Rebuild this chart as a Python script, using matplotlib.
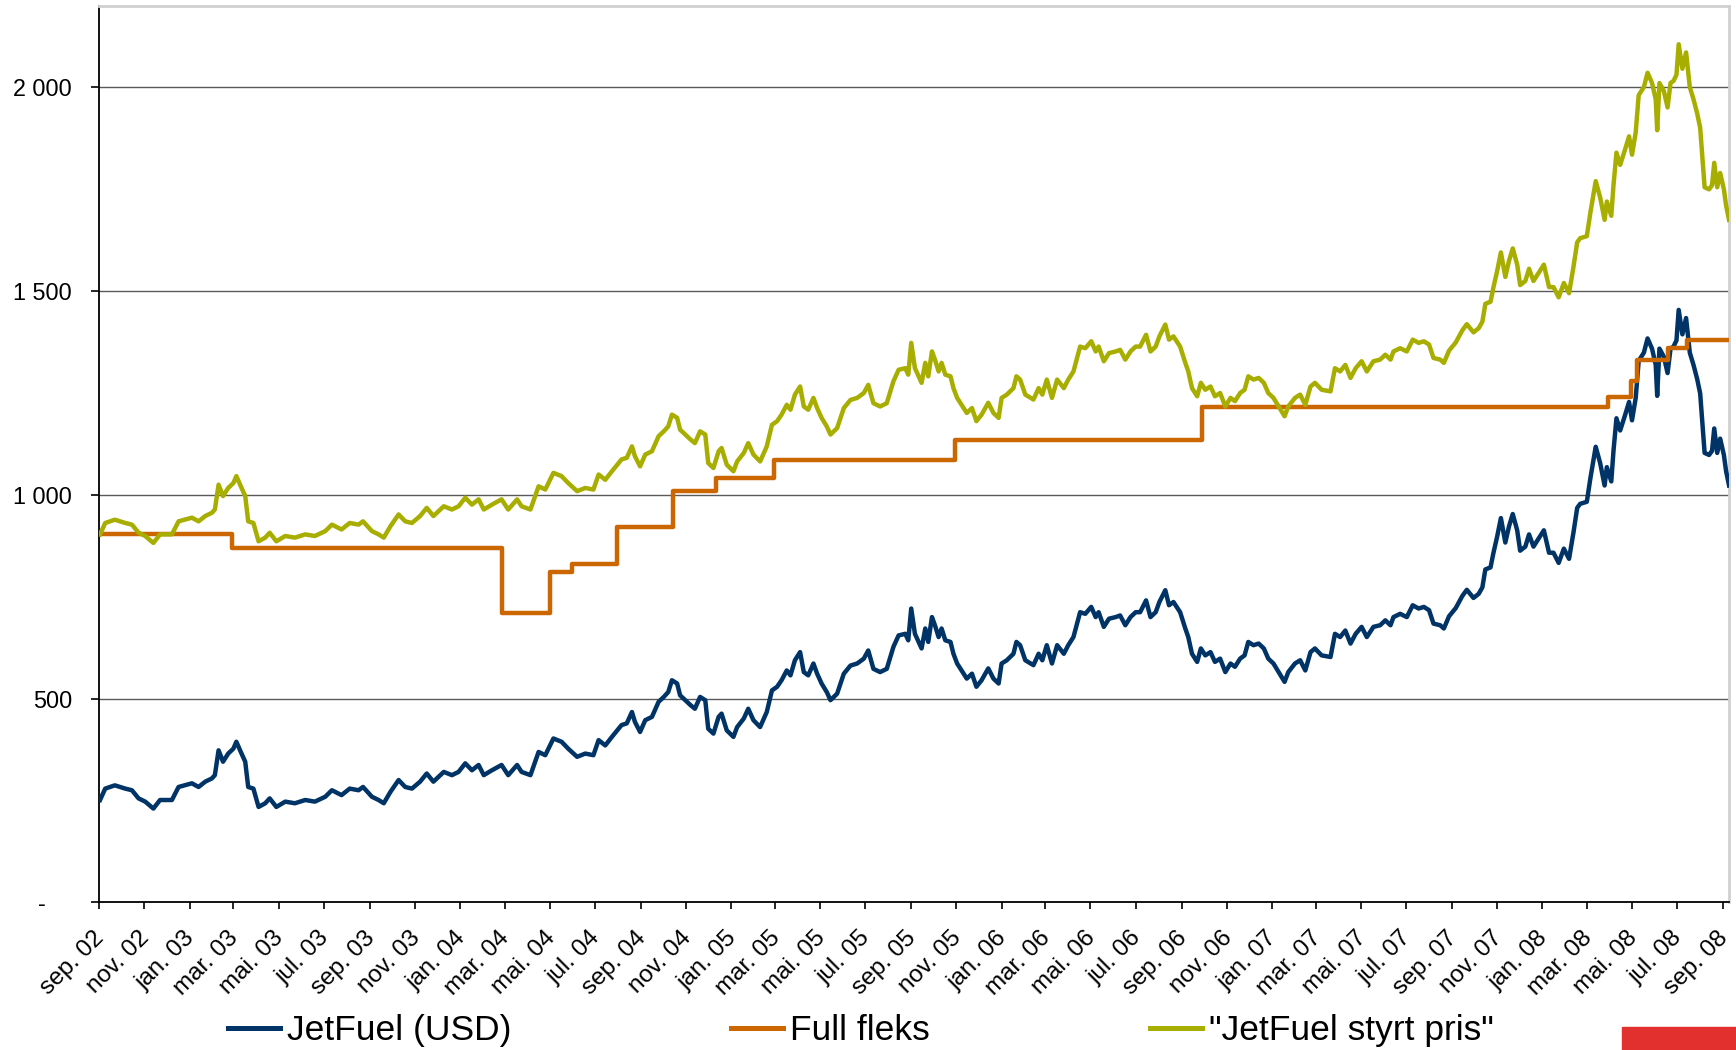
import numpy as np
import matplotlib
matplotlib.use("Agg")
import matplotlib.pyplot as plt
from matplotlib.transforms import ScaledTranslation
from matplotlib.patches import Rectangle

plt.rcParams['font.family'] = ['Liberation Sans', 'DejaVu Sans']

# ---------------- data ----------------
start_date = '2002-09-01'
end_date = '2008-09-09'

# day offsets from start_date
jet_days = [
    1, 8, 21, 35, 44, 53, 62, 73, 82, 98, 107, 125, 134, 143, 152, 156, 161, 167, 174, 181,
    185, 192, 197, 201, 208, 215, 224, 230, 239, 251, 264, 278, 291, 305, 314, 327, 338, 350, 356, 368,
    377, 384, 393, 404, 413, 422, 433, 442, 451, 465, 476, 485, 494, 503, 512, 519, 530, 543, 552, 564,
    570, 582, 593, 602, 613, 624, 633, 645, 656, 667, 674, 683, 692, 705, 712, 719,
    723, 730, 737, 746, 755, 762, 768, 773, 780, 784, 791, 798, 804, 811, 818, 822, 829, 836, 840, 847,
    856, 861, 870, 876, 883, 892, 901, 908, 915, 921, 928, 933, 939, 946, 951, 957, 964, 969, 975, 982,
    987, 996, 1005, 1014, 1023, 1032, 1038, 1045, 1054, 1063, 1072, 1079,
    1088, 1092, 1096, 1101, 1106, 1110, 1115, 1119, 1124, 1128, 1133, 1137, 1142, 1149, 1153, 1158, 1164, 1171, 1178, 1184,
    1191, 1200, 1207, 1214, 1218, 1225, 1234, 1238, 1243, 1250, 1261, 1268, 1273, 1279, 1286, 1293, 1302, 1308, 1315, 1324,
    1331, 1339, 1345, 1349, 1356, 1363, 1372, 1378, 1385, 1392, 1399, 1405, 1413, 1419, 1426, 1431, 1439, 1444, 1450,
    1459, 1466, 1470, 1475, 1482, 1487, 1493, 1500, 1506, 1513, 1520, 1527, 1533, 1540, 1546, 1551, 1558, 1565, 1572, 1578,
    1585, 1592, 1600, 1605, 1614, 1621, 1628, 1635, 1641, 1650, 1662, 1668, 1675, 1682, 1689, 1696, 1704, 1711, 1720, 1729,
    1736, 1743, 1747, 1756, 1765, 1773, 1781, 1788, 1795, 1801, 1810,
    1815, 1822, 1831, 1840, 1846, 1855, 1862, 1867, 1871, 1878, 1882, 1887, 1892, 1898, 1903, 1908, 1914, 1918, 1925, 1930,
    1936, 1943, 1950, 1957, 1963, 1970, 1977, 1984, 1990, 1995, 1999, 2008, 2013, 2020, 2026, 2032, 2035, 2041, 2044, 2048,
    2053, 2060, 2065, 2069, 2074, 2078, 2085, 2090, 2096, 2101, 2103, 2106, 2112, 2117, 2121, 2125, 2129, 2132, 2137, 2142,
    2147, 2152, 2157, 2161, 2167, 2173, 2177, 2180, 2184, 2188, 2193, 2196, 2200,
]

jet_usd = [
    251, 279, 287, 279, 275, 255, 247, 230, 251, 251, 283, 292, 283, 296, 304, 312, 373, 345, 365, 377,
    394, 365, 345, 283, 279, 234, 243, 255, 234, 247, 243, 251, 247, 259, 275, 263, 279, 275, 283, 259,
    251, 243, 271, 300, 283, 279, 296, 316, 296, 320, 312, 320, 341, 324, 337, 312, 324, 337, 312, 337,
    320, 312, 369, 361, 402, 394, 377, 357, 365, 361, 398, 385, 406, 435, 439, 467,
    443, 418, 447, 455, 492, 504, 516, 545, 537, 508, 496, 484, 475, 504, 496, 426, 414, 455, 463, 422,
    406, 430, 451, 475, 447, 430, 467, 520, 529, 545, 569, 557, 594, 614, 565, 557, 586, 561, 537, 516,
    496, 512, 561, 581, 586, 598, 618, 573, 565, 573, 627, 655,
    659, 643, 721, 659, 639, 623, 672, 639, 700, 680, 651, 672, 643, 639, 610, 586, 569, 549, 561, 529,
    545, 574, 549, 537, 586, 594, 610, 639, 631, 594, 582, 610, 594, 631, 586, 631, 610, 631, 651, 712,
    708, 725, 700, 712, 676, 696, 700, 704, 680, 700, 712, 712, 741, 700, 712, 737, 766, 729, 737,
    712, 672, 651, 610, 590, 623, 606, 614, 590, 598, 565, 586, 578, 598, 606, 639, 631, 635, 623, 598,
    586, 565, 541, 565, 586, 594, 569, 614, 623, 606, 602, 659, 651, 667, 635, 659, 676, 651, 676, 680,
    692, 680, 700, 708, 700, 729, 721, 725, 717, 684, 680,
    672, 702, 722, 752, 767, 747, 757, 773, 817, 822, 858, 898, 943, 883, 923, 953, 913, 863, 873, 903,
    873, 893, 913, 858, 858, 833, 868, 843, 908, 968, 978, 983, 1043, 1118, 1078, 1023, 1068, 1033, 1108, 1188,
    1158, 1198, 1228, 1183, 1238, 1329, 1349, 1384, 1359, 1319, 1243, 1359, 1339, 1299, 1359, 1364, 1379, 1454, 1394, 1434,
    1349, 1319, 1284, 1249, 1103, 1098, 1108, 1163, 1103, 1138, 1098, 1058, 1023,
]

styrt_pris = [
    903, 931, 939, 931, 927, 907, 899, 882, 903, 903, 935, 944, 935, 948, 956, 964, 1025, 997, 1017, 1029,
    1046, 1017, 997, 935, 931, 886, 895, 907, 886, 899, 895, 903, 899, 911, 927, 915, 931, 927, 935, 911,
    903, 895, 923, 952, 935, 931, 948, 968, 948, 972, 964, 972, 993, 976, 989, 964, 976, 989, 964, 989,
    972, 964, 1021, 1013, 1054, 1046, 1029, 1009, 1017, 1013, 1050, 1037, 1058, 1087, 1091, 1119,
    1095, 1070, 1099, 1107, 1144, 1156, 1168, 1197, 1189, 1160, 1148, 1136, 1127, 1156, 1148, 1078, 1066, 1107, 1115, 1074,
    1058, 1082, 1103, 1127, 1099, 1082, 1119, 1172, 1181, 1197, 1221, 1209, 1246, 1266, 1217, 1209, 1238, 1213, 1189, 1168,
    1148, 1164, 1213, 1233, 1238, 1250, 1270, 1225, 1217, 1225, 1279, 1307,
    1311, 1295, 1373, 1311, 1291, 1275, 1324, 1291, 1352, 1332, 1303, 1324, 1295, 1291, 1262, 1238, 1221, 1201, 1213, 1181,
    1197, 1226, 1201, 1189, 1238, 1246, 1262, 1291, 1283, 1246, 1234, 1262, 1246, 1283, 1238, 1283, 1262, 1283, 1303, 1364,
    1360, 1377, 1352, 1364, 1328, 1348, 1352, 1356, 1332, 1352, 1364, 1364, 1393, 1352, 1364, 1389, 1418, 1381, 1389,
    1364, 1324, 1303, 1262, 1242, 1275, 1258, 1266, 1242, 1250, 1217, 1238, 1230, 1250, 1258, 1291, 1283, 1287, 1275, 1250,
    1238, 1217, 1193, 1217, 1238, 1246, 1221, 1266, 1275, 1258, 1254, 1311, 1303, 1319, 1287, 1311, 1328, 1303, 1328, 1332,
    1344, 1332, 1352, 1360, 1352, 1381, 1373, 1377, 1369, 1336, 1332,
    1324, 1354, 1374, 1404, 1419, 1399, 1409, 1425, 1469, 1474, 1510, 1550, 1595, 1535, 1575, 1605, 1565, 1515, 1525, 1555,
    1525, 1545, 1565, 1510, 1510, 1485, 1520, 1495, 1560, 1620, 1630, 1635, 1695, 1770, 1730, 1675, 1720, 1685, 1760, 1840,
    1810, 1850, 1880, 1835, 1890, 1981, 2001, 2036, 2011, 1971, 1895, 2011, 1991, 1951, 2011, 2016, 2031, 2106, 2046, 2086,
    2001, 1971, 1936, 1901, 1755, 1750, 1760, 1815, 1755, 1790, 1750, 1710, 1675,
]

fleks_days = [1, 179, 543, 608, 638, 699, 774, 833, 911, 1155, 1489, 2037, 2067, 2076, 2118, 2143, 2200]
fleks_vals = [905, 870, 711, 810, 831, 921, 1009, 1041, 1086, 1135, 1215, 1240, 1279, 1331, 1361, 1379, 1379]

series_labels = ['JetFuel (USD)', 'Full fleks', '"JetFuel styrt pris"']
series_colors = ['#003366', '#CC6600', '#A8AE00']

ytick_vals = [0, 500, 1000, 1500, 2000]
ytick_labels = ['-\u2007\u2007', '500', '1 000', '1 500', '2 000']

month_numbers = [1, 3, 5, 7, 9, 11]
month_abbr = ['jan.', 'mar.', 'mai.', 'jul.', 'sep.', 'nov.']
tick_years = [2002, 2003, 2004, 2005, 2006, 2007, 2008]

# ---------------- build ----------------
t0 = np.datetime64(start_date)
jet_dates = t0 + np.array(jet_days).astype('timedelta64[D]')
fleks_dates = t0 + np.array(fleks_days).astype('timedelta64[D]')

xticks = []
xlabels = []
for yr in tick_years:
    for m, ab in zip(month_numbers, month_abbr):
        d = np.datetime64(f'{yr}-{m:02d}-01')
        if np.datetime64('2002-09-01') <= d <= np.datetime64('2008-09-01'):
            xticks.append(d)
            xlabels.append(f'{ab} {str(yr)[2:]}')

fig = plt.figure(figsize=(17.36, 10.5), dpi=100)
ax = fig.add_axes([0.0572, 0.1407, 0.9388, 0.8536])

ax.plot(jet_dates, jet_usd, color=series_colors[0], lw=3.2, label=series_labels[0], zorder=3)
ax.plot(fleks_dates, fleks_vals, color=series_colors[1], lw=3.2, drawstyle='steps-post',
        label=series_labels[1], zorder=4)
ax.plot(jet_dates, styrt_pris, color=series_colors[2], lw=3.2, label=series_labels[2], zorder=5)

ax.set_ylim(0, 2200)
ax.set_xlim(t0, np.datetime64(end_date))

ax.set_yticks(ytick_vals)
ax.set_yticklabels(ytick_labels, fontsize=16.8)
ax.tick_params(axis='y', direction='out', length=5.5, width=1.2, pad=14, colors='black')

ax.set_xticks(xticks)
ax.set_xticklabels(xlabels, fontsize=17.5, rotation=45, ha='right', va='top',
                   rotation_mode='anchor')
ax.tick_params(axis='x', direction='out', length=4.8, width=1.2, pad=13)
shift = ScaledTranslation(-6 / 100, 0, fig.dpi_scale_trans)
for lab in ax.get_xticklabels():
    lab.set_transform(lab.get_transform() + shift)

for v in ytick_vals[1:]:
    ax.axhline(v, color='#5a5a5a', lw=1.0, zorder=1)

for s in ['left', 'bottom']:
    ax.spines[s].set_color('black')
    ax.spines[s].set_linewidth(1.3)
for s in ['top', 'right']:
    ax.spines[s].set_color('#d0d0d0')
    ax.spines[s].set_linewidth(2)

handles, labels = ax.get_legend_handles_labels()
leg = fig.legend(handles, labels, loc='center left', bbox_to_anchor=(228 / 1736, 0.0184),
                 ncol=3, frameon=False, fontsize=25.5, handlelength=1.47, handletextpad=0.2,
                 columnspacing=6.2, borderpad=0, borderaxespad=0)
for ln in leg.get_lines():
    ln.set_linewidth(3.6)

fig.patches.append(Rectangle((1622 / 1736, 0), (1736 - 1622) / 1736, 23.5 / 1050,
                             transform=fig.transFigure, color='#E2302F', zorder=0))

fig.savefig('out.png', dpi=100)
